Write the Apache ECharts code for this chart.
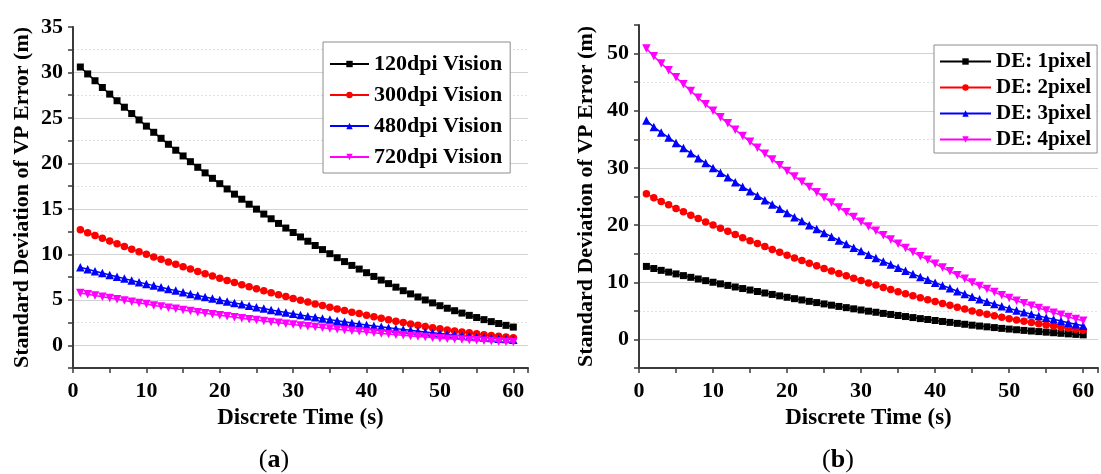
<!DOCTYPE html>
<html>
<head>
<meta charset="utf-8">
<script src="https://cdn.jsdelivr.net/npm/echarts@6/dist/echarts.min.js"></script>
<style>
html,body{margin:0;padding:0;background:#ffffff;}
#chart{width:1101px;height:474px;}
</style>
</head>
<body>
<div id="chart"></div>
<script>
// ---------- data ----------
const timeSteps = [1,2,3,4,5,6,7,8,9,10,11,12,13,14,15,16,17,18,19,20,
  21,22,23,24,25,26,27,28,29,30,31,32,33,34,35,36,37,38,39,40,
  41,42,43,44,45,46,47,48,49,50,51,52,53,54,55,56,57,58,59,60];

// panel (a)
const dpi120 = [30.60,29.84,29.09,28.35,27.62,26.89,26.18,25.48,24.78,24.10,
  23.42,22.76,22.10,21.45,20.82,20.19,19.57,18.96,18.36,17.77,
  17.19,16.62,16.06,15.51,14.97,14.43,13.91,13.40,12.89,12.40,
  11.91,11.44,10.97,10.52,10.07,9.63,9.20,8.78,8.38,7.98,
  7.57,7.17,6.78,6.39,6.00,5.65,5.31,4.98,4.66,4.35,
  4.07,3.80,3.54,3.29,3.05,2.82,2.60,2.39,2.19,2.00];
const dpi300 = [12.70,12.38,12.07,11.77,11.46,11.16,10.86,10.57,10.28,10.00,
  9.72,9.45,9.17,8.90,8.64,8.38,8.12,7.87,7.62,7.37,
  7.13,6.90,6.66,6.44,6.21,5.99,5.77,5.56,5.35,5.15,
  4.94,4.75,4.55,4.37,4.18,4.00,3.82,3.64,3.48,3.31,
  3.14,2.98,2.81,2.65,2.49,2.34,2.20,2.07,1.93,1.81,
  1.69,1.58,1.47,1.37,1.27,1.17,1.08,0.99,0.91,0.83];
const dpi480 = [8.57,8.36,8.15,7.94,7.73,7.53,7.33,7.13,6.94,6.75,
  6.56,6.37,6.19,6.01,5.83,5.65,5.48,5.31,5.14,4.98,
  4.81,4.65,4.50,4.34,4.19,4.04,3.89,3.75,3.61,3.47,
  3.33,3.20,3.07,2.95,2.82,2.70,2.58,2.46,2.35,2.23,
  2.13,2.04,1.93,1.83,1.73,1.64,1.55,1.46,1.37,1.29,
  1.21,1.14,1.06,0.99,0.92,0.86,0.80,0.73,0.68,0.62];
const dpi720 = [5.75,5.61,5.47,5.33,5.19,5.06,4.92,4.79,4.66,4.53,
  4.38,4.26,4.13,4.01,3.89,3.76,3.64,3.53,3.42,3.31,
  3.18,3.07,2.97,2.87,2.77,2.66,2.56,2.47,2.37,2.28,
  2.18,2.09,2.01,1.93,1.84,1.75,1.67,1.60,1.53,1.45,
  1.37,1.30,1.23,1.16,1.09,1.02,0.96,0.90,0.84,0.78,
  0.73,0.68,0.63,0.59,0.55,0.50,0.46,0.42,0.39,0.35];

// panel (b)
const de1px = [12.77,12.40,12.08,11.77,11.46,11.16,10.86,10.57,10.28,10.00,
  9.72,9.45,9.17,8.90,8.64,8.38,8.12,7.87,7.62,7.37,
  7.13,6.90,6.66,6.44,6.21,5.99,5.77,5.56,5.35,5.15,
  4.94,4.75,4.55,4.37,4.18,4.00,3.82,3.64,3.48,3.31,
  3.14,2.98,2.81,2.65,2.49,2.34,2.20,2.07,1.93,1.81,
  1.69,1.58,1.47,1.37,1.27,1.17,1.07,0.97,0.88,0.80];
const de2px = [25.50,24.76,24.14,23.54,22.92,22.32,21.72,21.14,20.56,20.00,
  19.44,18.90,18.34,17.80,17.28,16.76,16.24,15.74,15.24,14.74,
  14.26,13.80,13.32,12.88,12.42,11.98,11.54,11.12,10.70,10.30,
  9.88,9.50,9.10,8.74,8.36,8.00,7.64,7.28,6.96,6.62,
  6.28,5.96,5.62,5.30,4.98,4.68,4.40,4.14,3.86,3.62,
  3.38,3.16,2.94,2.74,2.54,2.34,2.14,1.94,1.76,1.60];
const de3px = [38.30,37.14,36.21,35.31,34.38,33.48,32.58,31.71,30.84,30.00,
  29.16,28.35,27.51,26.70,25.92,25.14,24.36,23.61,22.86,22.11,
  21.39,20.70,19.98,19.32,18.63,17.97,17.31,16.68,16.05,15.45,
  14.82,14.25,13.65,13.11,12.54,12.00,11.46,10.92,10.44,9.93,
  9.42,8.94,8.43,7.95,7.47,7.02,6.60,6.21,5.79,5.43,
  5.07,4.74,4.41,4.11,3.81,3.51,3.21,2.91,2.64,2.40];
const de4px = [50.90,49.52,48.28,47.08,45.84,44.64,43.44,42.28,41.12,40.00,
  38.88,37.80,36.68,35.60,34.56,33.52,32.48,31.48,30.48,29.48,
  28.52,27.60,26.64,25.76,24.84,23.96,23.08,22.24,21.40,20.60,
  19.76,19.00,18.20,17.48,16.72,16.00,15.28,14.56,13.92,13.24,
  12.56,11.92,11.24,10.60,9.96,9.36,8.80,8.28,7.72,7.24,
  6.76,6.32,5.88,5.48,5.08,4.68,4.30,3.92,3.56,3.25];

const namesA = ['120dpi Vision','300dpi Vision','480dpi Vision','720dpi Vision'];
const namesB = ['DE: 1pixel','DE: 2pixel','DE: 3pixel','DE: 4pixel'];
const xTickLabels = [0,10,20,30,40,50,60];
const yTickLabelsA = [0,5,10,15,20,25,30,35];
const yTickLabelsB = [0,10,20,30,40,50];
const xTitle = 'Discrete Time (s)';
const yTitle = 'Standard Deviation of VP Error (m)';
const panelLabels = ['a','b'];

// ---------- styling ----------
const FONT = 'Liberation Serif';
const COLORS = ['#000000','#ff0000','#0000ff','#ff00ff'];
const SYMBOLS = ['rect','circle','triangle','triangle'];
const ROTATES = [0,0,0,180];
const SIZES = [7,7.5,8.5,8.5];
const AXIS_COLOR = '#3a3a3a';

function pairs(vals){ return vals.map((v,i)=>[timeSteps[i], v]); }

function xAxisCfg(g){
  return {
    type:'value', gridIndex:g, min:0, max:62, interval:5,
    name:xTitle, nameLocation:'middle', nameGap:37,
    nameTextStyle:{fontFamily:FONT,fontWeight:'bold',fontSize:23,color:'#000'},
    axisLine:{onZero:false,lineStyle:{color:AXIS_COLOR,width:2}},
    axisTick:{show:true,inside:false,length:5,lineStyle:{color:AXIS_COLOR,width:1.5}},
    axisLabel:{margin:12,fontFamily:FONT,fontWeight:'bold',fontSize:22,color:'#000',
      formatter:v=>xTickLabels.includes(v)?String(v):''},
    splitLine:{show:false}
  };
}
function yAxisMain(g,min,max,step,labels,gap){
  return {
    type:'value', gridIndex:g, min:min, max:max, interval:step, position:'left',
    name:yTitle, nameLocation:'middle', nameRotate:90, nameGap:gap,
    nameTextStyle:{fontFamily:FONT,fontWeight:'bold',fontSize:22,color:'#000'},
    axisLine:{show:true,onZero:false,lineStyle:{color:AXIS_COLOR,width:2}},
    axisTick:{show:true,inside:false,length:5,lineStyle:{color:AXIS_COLOR,width:1.5}},
    axisLabel:{margin:10,fontFamily:FONT,fontWeight:'bold',fontSize:22,color:'#000',
      formatter:v=>labels.includes(v)?String(v):''},
    splitLine:{show:true,showMaxLine:false,lineStyle:{color:['rgba(0,0,0,0)','#d2d2d2'],width:1,type:'solid'}}
  };
}
function yAxisMinor(g,min,max,step){
  return {
    type:'value', gridIndex:g, min:min, max:max, interval:step, position:'left',
    axisLine:{show:false}, axisTick:{show:false}, axisLabel:{show:false},
    splitLine:{show:true,showMaxLine:false,lineStyle:{color:['#e0e0e0','rgba(0,0,0,0)'],width:1,type:[2,2]}}
  };
}
function lineSeries(name,vals,k,xi,yi){
  return {
    type:'line', name:name, xAxisIndex:xi, yAxisIndex:yi, data:pairs(vals),
    symbol:SYMBOLS[k], symbolSize:SIZES[k], symbolRotate:ROTATES[k], showSymbol:true,
    lineStyle:{color:COLORS[k],width:1.5}, itemStyle:{color:COLORS[k]},
    animation:false, z:2+k
  };
}
function legendCfg(names,left,top,iw,fs,gap,pad){
  return {
    data:names, orient:'vertical', left:left, top:top,
    itemWidth:iw, itemHeight:8, itemGap:gap, padding:pad,
    backgroundColor:'#ffffff', borderColor:'#8c8c8c', borderWidth:1,
    textStyle:{fontFamily:FONT,fontWeight:'bold',fontSize:fs,color:'#000'},
    selectedMode:false
  };
}

const chart = echarts.init(document.getElementById('chart'), null, {renderer:'canvas'});
const option = {
  animation:false,
  backgroundColor:'#ffffff',
  grid:[
    {left:73,top:27,width:455,height:341},
    {left:639,top:25,width:461,height:343}
  ],
  xAxis:[xAxisCfg(0), xAxisCfg(1)],
  yAxis:[
    yAxisMain(0,-2.5,35,2.5,yTickLabelsA,40),
    yAxisMinor(0,-2.5,35,2.5),
    yAxisMain(1,-5,55,5,yTickLabelsB,42),
    yAxisMinor(1,-5,55,5)
  ],
  legend:[
    legendCfg(namesA,323,42,39,22,9,[11,8,5,6]),
    legendCfg(namesB,934,45,51,21,5,[6,6,3,5])
  ],
  series:[
    lineSeries(namesA[0],dpi120,0,0,0),
    lineSeries(namesA[1],dpi300,1,0,0),
    lineSeries(namesA[2],dpi480,2,0,0),
    lineSeries(namesA[3],dpi720,3,0,0),
    lineSeries(namesB[0],de1px,0,1,2),
    lineSeries(namesB[1],de2px,1,1,2),
    lineSeries(namesB[2],de3px,2,1,2),
    lineSeries(namesB[3],de4px,3,1,2)
  ],
  graphic:[
    {type:'text', x:274, y:460, style:{text:'{p|(}{b|'+panelLabels[0]+'}{p|)}', align:'center', verticalAlign:'middle', textAlign:'center', textVerticalAlign:'middle',
      rich:{p:{fontFamily:FONT,fontSize:26,fontWeight:'normal',fill:'#000'},b:{fontFamily:FONT,fontSize:26,fontWeight:'bold',fill:'#000'}}}},
    {type:'text', x:838, y:460, style:{text:'{p|(}{b|'+panelLabels[1]+'}{p|)}', align:'center', verticalAlign:'middle', textAlign:'center', textVerticalAlign:'middle',
      rich:{p:{fontFamily:FONT,fontSize:26,fontWeight:'normal',fill:'#000'},b:{fontFamily:FONT,fontSize:26,fontWeight:'bold',fill:'#000'}}}}
  ]
};
chart.setOption(option);
</script>
</body>
</html>
